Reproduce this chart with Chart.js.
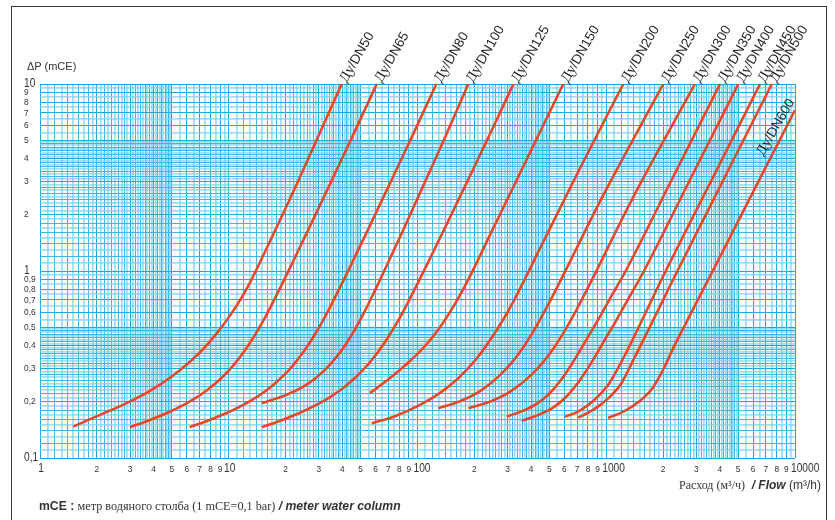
<!DOCTYPE html>
<html>
<head>
<meta charset="utf-8">
<script src="https://cdn.jsdelivr.net/npm/chart.js@4.4.1/dist/chart.umd.min.js"></script>
<style>
body { margin: 0; background: #fff; }
#wrap { position: relative; width: 835px; height: 520px; overflow: hidden; font-family: "Liberation Sans", Arial, sans-serif; color: #333; }
#frame { position: absolute; left: 11px; top: 6px; width: 814px; height: 540px; border: 1.4px solid #3a3a3a; border-bottom: none; }
canvas { position: absolute; left: 0; top: 0; }
.t { position: absolute; white-space: nowrap; line-height: 1; }
.serif { font-family: "Liberation Serif", "Times New Roman", serif; }
</style>
</head>
<body>
<div id="wrap">
  <div id="frame"></div>
  <canvas id="chart" width="835" height="520"></canvas>
  <div class="t" style="left:27px; top:61px; font-size:11px;">ΔP (mCE)</div>
  <div class="t" style="right:14px; top:479px; font-size:12px;"><span class="serif">Расход (м³/ч)</span>&nbsp; <b><i>/ Flow</i></b> (m³/h)</div>
  <div class="t" style="left:39px; top:500px; font-size:12.2px;"><b>mCE :</b> <span class="serif">метр водяного столба (1 mCE=0,1 bar)</span> <b><i>/ meter water column</i></b></div>
</div>
<script>
// flow in m3/h, pressure drop in mCE
var curveNames = ['DN50', 'DN65', 'DN80', 'DN100', 'DN125', 'DN150', 'DN200', 'DN250', 'DN300', 'DN350', 'DN400', 'DN450', 'DN500', 'DN600'];

var qDN50 = [1.501, 2.079, 2.821, 3.826, 4.884, 6.233, 7.483, 8.773, 10.15, 11.61, 13.12, 15.01, 21.11, 39.67];
var dpDN50 = [0.1472, 0.1701, 0.1948, 0.2287, 0.2686, 0.3272, 0.3913, 0.474, 0.5773, 0.7123, 0.8893, 1.174, 2.432, 10];
var qDN65 = [2.998, 3.826, 5.066, 6.233, 7.668, 8.99, 10.53, 11.9, 13.44, 15.19, 17.16, 21.9, 27.95, 35.67, 45.53, 60.79];
var dpDN65 = [0.1461, 0.1597, 0.18, 0.2006, 0.2304, 0.2636, 0.3113, 0.3642, 0.4373, 0.5394, 0.6822, 1.123, 1.877, 3.152, 5.321, 10];
var qDN80 = [6.206, 7.92, 10.49, 12.9, 15.87, 18.61, 21.8, 24.63, 27.82, 31.44, 35.52, 45.33, 57.86, 73.84, 94.25, 125.8];
var dpDN80 = [0.1461, 0.1597, 0.18, 0.2006, 0.2304, 0.2636, 0.3113, 0.3642, 0.4373, 0.5394, 0.6822, 1.123, 1.877, 3.152, 5.321, 10];
var qDN100 = [14.95, 19.86, 25.88, 32.36, 38.86, 44.97, 51.44, 58.11, 65.65, 74.18, 83.8, 103.1, 131.6, 185.8];
var dpDN100 = [0.1965, 0.2161, 0.247, 0.296, 0.3663, 0.4576, 0.5841, 0.7478, 0.969, 1.2637, 1.6481, 2.615, 4.502, 10];
var qDN125 = [14.99, 19.21, 25.53, 31.54, 38.95, 45.85, 53.91, 61.17, 69.35, 78.68, 89.23, 114.3, 146.5, 187.6, 240.4, 322.2];
var dpDN125 = [0.1461, 0.1597, 0.18, 0.2006, 0.2304, 0.2636, 0.3113, 0.3642, 0.4373, 0.5394, 0.6822, 1.123, 1.877, 3.152, 5.321, 10];
var qDN150 = [56.02, 71.51, 91.25, 109.6, 131.6, 158, 189.8, 242.2, 349.2, 592.2];
var dpDN150 = [0.2223, 0.2676, 0.33, 0.3971, 0.5007, 0.6672, 0.9397, 1.559, 3.331, 10];
var qDN200 = [57.2, 76.01, 103.1, 131.6, 163.9, 201.7, 242.2, 283.8, 332.5, 445.7, 725.9, 1231];
var dpDN200 = [0.1535, 0.1673, 0.1922, 0.223, 0.2664, 0.3321, 0.4264, 0.5468, 0.73, 1.32, 3.545, 10];
var qDN250 = [128.9, 168, 214.4, 273.6, 328.5, 394.6, 473.8, 568.8, 926.6, 2005];
var dpDN250 = [0.1847, 0.2011, 0.2276, 0.2773, 0.34, 0.4446, 0.6148, 0.8773, 2.356, 10];
var qDN300 = [186, 245.3, 313, 399.5, 479.6, 576.1, 691.7, 830.4, 1353, 2951];
var dpDN300 = [0.1847, 0.2011, 0.2276, 0.2773, 0.34, 0.4446, 0.6148, 0.8773, 2.356, 10];
var qDN350 = [296.9, 358, 432, 501.5, 569.6, 639.5, 719.8, 812, 906.7, 1053.6, 1267, 2195, 4007];
var dpDN350 = [0.1665, 0.178, 0.196, 0.222, 0.258, 0.305, 0.37, 0.455, 0.55, 0.72, 1, 3, 10];
var qDN400 = [356.5, 437.5, 527.5, 612.7, 696.7, 782, 881.5, 998, 1113, 1299, 1584, 2744, 5010];
var dpDN400 = [0.158, 0.17, 0.187, 0.212, 0.247, 0.292, 0.355, 0.44, 0.53, 0.7, 1, 3, 10];
var qDN450 = [604.5, 700, 803, 910, 1025, 1207, 2065, 3577, 6530];
var dpDN450 = [0.1665, 0.176, 0.1924, 0.215, 0.2463, 0.3284, 1, 3, 10];
var qDN500 = [711, 812, 931, 1056, 1189, 1380, 2383, 4127, 7535];
var dpDN500 = [0.1645, 0.176, 0.1924, 0.215, 0.2463, 0.3284, 1, 3, 10];
var qDN600 = [1022, 1257, 1510, 1748, 1950, 2098, 2230, 2511, 4000, 6000, 8000, 10000];
var dpDN600 = [0.1639, 0.1787, 0.2021, 0.2344, 0.2821, 0.3271, 0.3748, 0.4755, 1.188, 2.648, 4.667, 7.26];

var xTickValues = [1, 2, 3, 4, 5, 6, 7, 8, 9, 10, 20, 30, 40, 50, 60, 70, 80, 90, 100, 200, 300, 400, 500, 600, 700, 800, 900, 1000, 2000, 3000, 4000, 5000, 6000, 7000, 8000, 9000, 10000];
var xTickLabels = ['1', '2', '3', '4', '5', '6', '7', '8', '9', '10', '2', '3', '4', '5', '6', '7', '8', '9', '100', '2', '3', '4', '5', '6', '7', '8', '9', '1000', '2', '3', '4', '5', '6', '7', '8', '9', '10000'];
var yTickValues = [0.1, 0.2, 0.3, 0.4, 0.5, 0.6, 0.7, 0.8, 0.9, 1, 2, 3, 4, 5, 6, 7, 8, 9, 10];
var yTickLabels = ['0,1', '0,2', '0,3', '0,4', '0,5', '0,6', '0,7', '0,8', '0,9', '1', '2', '3', '4', '5', '6', '7', '8', '9', '10'];

var series = {
    DN50: [qDN50, dpDN50], DN65: [qDN65, dpDN65], DN80: [qDN80, dpDN80], DN100: [qDN100, dpDN100],
    DN125: [qDN125, dpDN125], DN150: [qDN150, dpDN150], DN200: [qDN200, dpDN200], DN250: [qDN250, dpDN250],
    DN300: [qDN300, dpDN300], DN350: [qDN350, dpDN350], DN400: [qDN400, dpDN400], DN450: [qDN450, dpDN450],
    DN500: [qDN500, dpDN500], DN600: [qDN600, dpDN600]
};

// log paper lines: tenths up to 5, halves from 5 to 10, in each decade
function paperLines(firstDecade, decades) {
    var lines = [];
    for (var d = 0; d < decades; d++) {
        var base = firstDecade * Math.pow(10, d);
        for (var m = 10; m < 50; m++) lines.push({ value: base * m / 10, kind: m % 10 == 0 ? 'major' : (m % 2 == 0 ? 'dark' : 'light') });
        for (var h = 50; h < 100; h += 5) lines.push({ value: base * h / 10, kind: h % 10 == 0 ? 'major' : 'light' });
    }
    lines.push({ value: firstDecade * Math.pow(10, decades), kind: 'major' });
    return lines;
}
var xLines = paperLines(1, 4);
var yLines = paperLines(0.1, 2);

function lineColor(kind) { return kind == 'light' ? 'rgba(120,210,245,0.7)' : (kind == 'major' ? '#17a8e1' : '#3ab6e8'); }
function lineWidth(kind) { return kind == 'light' ? 1.8 : 1; }

var datasets = curveNames.map(function (name) {
    var s = series[name];
    return {
        label: name,
        data: s[0].map(function (q, i) { return { x: q, y: s[1][i] }; }),
        borderColor: '#e8482a',
        borderWidth: 2.6,
        pointRadius: 0,
        cubicInterpolationMode: 'monotone',
        fill: false
    };
});

function drawName(ctx, name) {
    ctx.font = '14.5px "Liberation Serif", "Times New Roman", serif';
    ctx.fillText('Ду', 0, 0);
    var w = ctx.measureText('Ду').width;
    ctx.font = '13.5px "Liberation Sans", Arial, sans-serif';
    ctx.fillText('/' + name, w, 0);
}

// printed tick numbers are a condensed face, so squeeze them horizontally
function narrowText(ctx, text, x, y, sx) {
    ctx.save();
    ctx.translate(x, y);
    ctx.scale(sx, 1);
    ctx.fillText(text, 0, 0);
    ctx.restore();
}

var labelPlugin = {
    id: 'paperLabels',
    afterDraw: function (chart) {
        var ctx = chart.ctx, xs = chart.scales.x, ys = chart.scales.y;
        var sans = '"Liberation Sans", Arial, sans-serif';
        ctx.save();
        ctx.fillStyle = '#333';
        ctx.textBaseline = 'alphabetic';
        xTickValues.forEach(function (v, i) {
            var t = xTickLabels[i];
            var big = t.length > 1 || v == 1;
            var px = xs.getPixelForValue(v);
            ctx.font = (big ? '12px ' : '9.5px ') + sans;
            if (v == 1 || v == 10) { ctx.textAlign = 'center'; narrowText(ctx, t, px + 1, 472, 0.85); }
            else if (big) { ctx.textAlign = 'left'; narrowText(ctx, t, px - 4, 472, 0.85); }
            else { ctx.textAlign = 'center'; narrowText(ctx, t, px, 472, 0.88); }
        });
        ctx.textBaseline = 'middle';
        ctx.textAlign = 'left';
        yTickValues.forEach(function (v, i) {
            var t = yTickLabels[i];
            var big = v == 0.1 || v == 1 || v == 10;
            ctx.font = (big ? '12px ' : '9.5px ') + sans;
            narrowText(ctx, t, 24, ys.getPixelForValue(v), big ? 0.85 : 0.88);
        });

        ctx.fillStyle = '#231f20';
        ctx.textAlign = 'left';
        ctx.textBaseline = 'middle';
        var angle = -60 * Math.PI / 180;
        chart.data.datasets.forEach(function (ds, i) {
            var pts = chart.getDatasetMeta(i).data;
            var end = pts[pts.length - 1];
            ctx.save();
            ctx.translate(end.x, end.y);
            ctx.rotate(angle);
            if (ds.label == 'DN600') ctx.translate(-56, -8);
            else ctx.translate(3, 0);
            drawName(ctx, ds.label);
            ctx.restore();
        });
        ctx.restore();
    }
};

new Chart(document.getElementById('chart'), {
    type: 'line',
    data: { datasets: datasets },
    options: {
        responsive: false,
        animation: false,
        layout: { padding: { left: 40, top: 84, right: 40, bottom: 62 } },
        plugins: { legend: { display: false }, tooltip: { enabled: false } },
        scales: {
            x: {
                type: 'logarithmic',
                min: 1,
                max: 10000,
                border: { display: false },
                ticks: { display: false, autoSkip: false },
                afterBuildTicks: function (scale) { scale.ticks = xLines.map(function (l) { return { value: l.value }; }); },
                afterFit: function (scale) { scale.height = 0; },
                grid: {
                    drawTicks: false,
                    color: function (c) { return lineColor(xLines[c.index] ? xLines[c.index].kind : 'major'); },
                    lineWidth: function (c) { return lineWidth(xLines[c.index] ? xLines[c.index].kind : 'major'); }
                }
            },
            y: {
                type: 'logarithmic',
                min: 0.1,
                max: 10,
                border: { display: false },
                ticks: { display: false, autoSkip: false },
                afterBuildTicks: function (scale) { scale.ticks = yLines.map(function (l) { return { value: l.value }; }); },
                afterFit: function (scale) { scale.width = 0; },
                grid: {
                    drawTicks: false,
                    color: function (c) { return lineColor(yLines[c.index] ? yLines[c.index].kind : 'major'); },
                    lineWidth: function (c) { return lineWidth(yLines[c.index] ? yLines[c.index].kind : 'major'); }
                }
            }
        }
    },
    plugins: [labelPlugin]
});
</script>
</body>
</html>
